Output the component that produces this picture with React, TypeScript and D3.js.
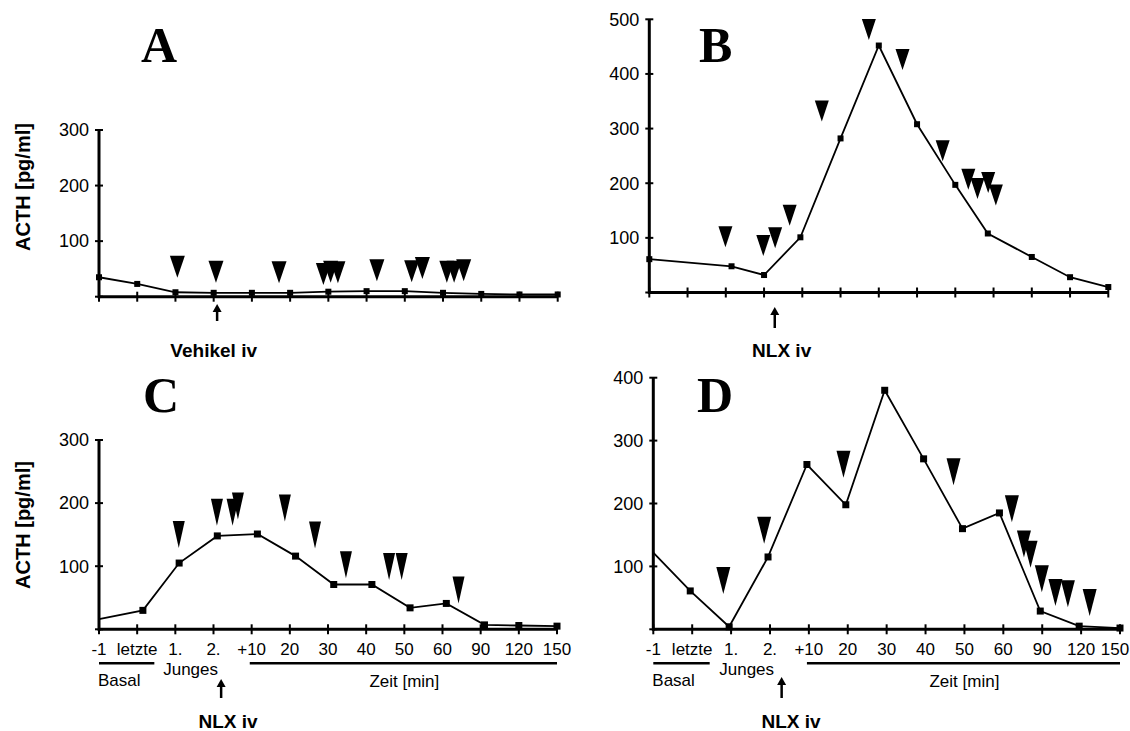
import * as d3 from "d3";

// x categories shared by all four panels
const categories = ["-1", "letzte", "1.", "2.", "+10", "20", "30", "40", "50", "60", "90", "120", "150"];

// A: Vehikel iv
const aPos = [0, 1, 2, 3, 4, 5, 6, 7, 8, 9, 10, 11, 12];
const aActh = [35, 23, 8, 7, 7, 7, 9, 10, 10, 7, 5, 4, 4];
const aEventPos = [2.05, 3.06, 4.71, 5.87, 6.06, 6.25, 7.27, 8.18, 8.46, 9.1, 9.29, 9.54];
const aEventTip = [34, 25, 24, 21, 25, 24, 28, 26, 32, 25, 25, 28];

// B: NLX iv
const bPos = [0, 2.15, 3, 3.95, 5, 6, 7, 8, 8.85, 10, 11, 12];
const bActh = [61, 48, 32, 101, 282, 452, 308, 197, 108, 65, 28, 10];
const bEventPos = [1.99, 2.98, 3.29, 3.67, 4.51, 5.74, 6.62, 7.67, 8.34, 8.58, 8.86, 9.06];
const bEventTip = [83, 67, 81, 122, 313, 462, 407, 240, 188, 171, 182, 159];

// C: NLX iv
const cPos = [0, 1.15, 2.1, 3.1, 4.15, 5.15, 6.15, 7.15, 8.15, 9.1, 10.1, 11, 12];
const cActh = [16, 30, 105, 148, 151, 116, 71, 71, 34, 41, 7, 6, 5];
const cEventPos = [2.09, 3.09, 3.5, 3.64, 4.87, 5.66, 6.47, 7.6, 7.93, 9.42];
const cEventTip = [129, 164, 164, 174, 171, 128, 81, 78, 78, 41];

// D: NLX iv
const dPos = [0, 0.95, 1.95, 2.95, 3.95, 4.95, 5.95, 6.95, 7.95, 8.9, 9.95, 10.95, 12];
const dActh = [122, 61, 4, 115, 262, 198, 380, 271, 160, 185, 29, 5, 2];
const dEventPos = [1.8, 2.85, 4.89, 7.72, 9.22, 9.53, 9.7, 9.99, 10.34, 10.66, 11.22];
const dEventTip = [56, 136, 241, 229, 170, 114, 98, 59, 37, 35, 21];

const yTicks300 = [0, 100, 200, 300];
const yTicks400 = [0, 100, 200, 300, 400];
const yTicks500 = [0, 100, 200, 300, 400, 500];

const sans = "'Liberation Sans', Arial, sans-serif";
const W = 1130;
const H = 731;

interface PanelProps {
  letter: string;
  letterX: number;
  letterY: number;
  left: number;
  right: number;
  bottom: number;
  top: number;
  yTicks: number[];
  pos: number[];
  vals: number[];
  hideFirst: boolean;
  mark: number;
  evPos: number[];
  evTip: number[];
  triW: number;
  triH: number;
  arrowAt: number;
  arrowTop: number;
  arrowBottom: number;
  note: string;
  noteAt: number;
  noteY: number;
  titleY?: number;
  labels: boolean;
}

const Panel = (p: PanelProps) => {
  const x = d3.scaleLinear().domain([0, categories.length - 1]).range([p.left, p.right]);
  const y = d3
    .scaleLinear()
    .domain([0, p.yTicks[p.yTicks.length - 1]])
    .range([p.bottom, p.top]);
  const line = d3
    .line<number>()
    .x((_, i) => x(p.pos[i]))
    .y((d) => y(d));

  const tri = (cx: number, tip: number) =>
    `M${cx - p.triW / 2},${tip - p.triH}L${cx + p.triW / 2},${tip - p.triH}L${cx},${tip}Z`;

  const ax = x(p.arrowAt);
  const b = p.bottom;

  return (
    <g>
      <text
        x={p.letterX}
        y={p.letterY}
        fontFamily="'Liberation Serif', 'Times New Roman', serif"
        fontWeight="bold"
        fontSize={50}
      >
        {p.letter}
      </text>
      {p.titleY !== undefined && (
        <text
          transform={`translate(30,${p.titleY}) rotate(-90)`}
          textAnchor="middle"
          fontFamily={sans}
          fontWeight="bold"
          fontSize={20}
        >
          ACTH [pg/ml]
        </text>
      )}

      <path d={line(p.vals) || ""} fill="none" stroke="#000" strokeWidth={1.8} />

      {/* axes */}
      <line x1={p.left} x2={p.left} y1={y(0) + 1.5} y2={p.top} stroke="#000" strokeWidth={3} />
      <line x1={p.left} x2={p.right} y1={b} y2={b} stroke="#000" strokeWidth={3} />
      {p.yTicks.map((t) => (
        <g key={"y" + t}>
          <line x1={p.left - 4} x2={p.left + 4} y1={y(t)} y2={y(t)} stroke="#000" strokeWidth={2} />
          {t > 0 && (
            <text
              x={p.left - 10}
              y={y(t)}
              dy="0.35em"
              textAnchor="end"
              fontFamily={sans}
              fontSize={18}
            >
              {t}
            </text>
          )}
        </g>
      ))}
      {categories.map((c, i) => (
        <g key={"x" + i}>
          <line x1={x(i)} x2={x(i)} y1={b - 5} y2={b + 5} stroke="#000" strokeWidth={2} />
          {p.labels && (
            <text
              x={Math.min(x(i), W - 15)}
              y={b + 26}
              textAnchor="middle"
              fontFamily={sans}
              fontSize={17}
            >
              {c}
            </text>
          )}
        </g>
      ))}

      {p.labels && (
        <g fontFamily={sans} fontSize={17}>
          <line x1={x(0)} x2={x(1.45)} y1={b + 34} y2={b + 34} stroke="#000" strokeWidth={2.5} />
          <line x1={x(3.95)} x2={x(12)} y1={b + 34} y2={b + 34} stroke="#000" strokeWidth={2.5} />
          <text x={x(0) - 1} y={b + 57}>Basal</text>
          <text x={x(2.4)} y={b + 46} textAnchor="middle">Junges</text>
          <text x={x(8)} y={b + 58} textAnchor="middle">Zeit [min]</text>
        </g>
      )}

      {/* data markers */}
      {p.vals.map((v, i) =>
        p.hideFirst && i === 0 ? null : (
          <rect
            key={"m" + i}
            x={x(p.pos[i]) - p.mark / 2}
            y={y(v) - p.mark / 2}
            width={p.mark}
            height={p.mark}
            fill="#000"
          />
        )
      )}

      {/* event triangles */}
      {p.evPos.map((e, i) => (
        <path key={"t" + i} d={tri(x(e), y(p.evTip[i]))} fill="#000" />
      ))}

      {/* injection arrow */}
      <line x1={ax} x2={ax} y1={p.arrowTop + 6} y2={p.arrowBottom} stroke="#000" strokeWidth={2.5} />
      <path d={`M${ax - 4.5},${p.arrowTop + 8}L${ax + 4.5},${p.arrowTop + 8}L${ax},${p.arrowTop}Z`} fill="#000" />
      <text
        x={x(p.noteAt)}
        y={p.noteY}
        textAnchor="middle"
        fontFamily={sans}
        fontWeight="bold"
        fontSize={19}
      >
        {p.note}
      </text>
    </g>
  );
};

const App = () => {
  return (
    <svg
      width={W}
      height={H}
      style={{ position: "absolute", left: 0, top: 0, background: "#fff" }}
    >
      <Panel
        letter="A"
        letterX={141}
        letterY={62}
        left={99}
        right={557.7}
        bottom={296.7}
        top={130}
        yTicks={yTicks300}
        pos={aPos}
        vals={aActh}
        hideFirst={false}
        mark={6}
        evPos={aEventPos}
        evTip={aEventTip}
        triW={15}
        triH={22}
        arrowAt={3.09}
        arrowTop={304}
        arrowBottom={321}
        note="Vehikel iv"
        noteAt={3.0}
        noteY={357}
        titleY={187}
        labels={false}
      />
      <Panel
        letter="B"
        letterX={699}
        letterY={62}
        left={649.3}
        right={1108.3}
        bottom={292.5}
        top={19.3}
        yTicks={yTicks500}
        pos={bPos}
        vals={bActh}
        hideFirst={false}
        mark={6}
        evPos={bEventPos}
        evTip={bEventTip}
        triW={14}
        triH={21}
        arrowAt={3.28}
        arrowTop={307}
        arrowBottom={328}
        note="NLX iv"
        noteAt={3.46}
        noteY={357}
        labels={false}
      />
      <Panel
        letter="C"
        letterX={143}
        letterY={412}
        left={99}
        right={557}
        bottom={629.3}
        top={440}
        yTicks={yTicks300}
        pos={cPos}
        vals={cActh}
        hideFirst={true}
        mark={7}
        evPos={cEventPos}
        evTip={cEventTip}
        triW={12}
        triH={27}
        arrowAt={3.2}
        arrowTop={679}
        arrowBottom={698}
        note="NLX iv"
        noteAt={3.38}
        noteY={728}
        titleY={525}
        labels={true}
      />
      <Panel
        letter="D"
        letterX={697}
        letterY={412}
        left={653.3}
        right={1120}
        bottom={629.3}
        top={377.7}
        yTicks={yTicks400}
        pos={dPos}
        vals={dActh}
        hideFirst={true}
        mark={7}
        evPos={dEventPos}
        evTip={dEventTip}
        triW={14}
        triH={27}
        arrowAt={3.3}
        arrowTop={677}
        arrowBottom={698}
        note="NLX iv"
        noteAt={3.54}
        noteY={728}
        labels={true}
      />
    </svg>
  );
};

export default App;
